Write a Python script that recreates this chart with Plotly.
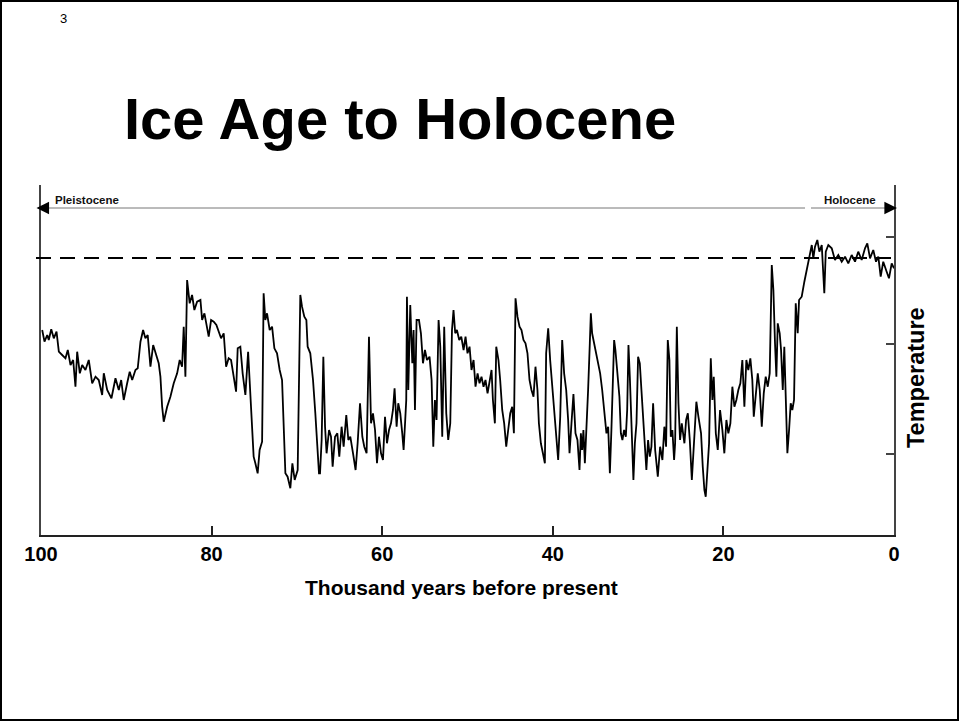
import plotly.graph_objects as go

# Time (thousand years before present) and relative temperature index (arbitrary units)
t_glacial_early = [99.86, 99.59, 99.27, 99.09, 98.80, 98.50, 98.18, 97.91, 97.52, 97.13, 96.86, 96.54, 96.23,
                   95.96, 95.76, 95.45, 95.17, 94.79, 94.40, 94.00, 93.61, 93.23, 92.83, 92.64, 92.24, 91.74,
                   91.27, 90.88, 90.60, 90.30, 89.90, 89.60, 89.31, 88.93, 88.66, 88.34, 88.03, 87.76, 87.49,
                   87.17, 86.85, 86.47, 86.20, 86.00, 85.80, 85.61, 85.21, 84.83, 84.44, 84.04, 83.74, 83.46,
                   83.27, 83.07, 82.87, 82.57, 82.29, 82.02, 81.70]
T_glacial_early = [12.4, 11.23, 11.9, 11.4, 12.47, 11.57, 12.23, 10.23, 9.9, 9.57, 10.4, 8.9, 9.4,
                   6.73, 10.23, 8.07, 8.9, 8.4, 9.4, 7.07, 7.73, 7.4, 5.9, 8.07, 6.4, 5.57,
                   7.57, 6.4, 7.4, 5.4, 7.07, 8.23, 7.4, 8.4, 8.57, 11.23, 12.4, 11.57, 11.9,
                   8.73, 10.9, 9.73, 9.07, 7.73, 4.73, 3.23, 4.73, 5.73, 7.07, 8.07, 9.4, 8.73,
                   12.73, 7.73, 17.4, 15.07, 15.9, 14.4, 15.23]

t_glacial_70k = [81.31, 81.11, 80.84, 80.61, 80.34, 80.06, 79.75, 79.44, 79.17, 78.89, 78.58, 78.30, 78.00,
                 77.72, 77.41, 77.13, 76.94, 76.63, 76.36, 76.04, 75.72, 75.45, 75.26, 75.07, 74.87, 74.60,
                 74.37, 74.08, 73.90, 73.70, 73.50, 73.19, 72.91, 72.64, 72.33, 72.02, 71.74, 71.55, 71.35,
                 71.09, 70.77, 70.53, 70.26, 69.91, 69.71, 69.60, 69.40, 69.13, 68.89, 68.74, 68.43, 68.11,
                 67.84, 67.64, 67.41]
T_glacial_70k = [15.4, 13.4, 14.07, 12.9, 11.73, 13.4, 13.23, 12.9, 12.23, 11.57, 12.07, 8.73, 9.57,
                 9.4, 7.73, 6.23, 10.57, 10.73, 8.07, 5.9, 10.23, 5.73, 2.73, -0.27, -0.93, -1.93,
                 0.4, 1.23, 16.07, 13.4, 14.07, 12.4, 12.73, 10.57, 10.07, 8.4, 7.4, 3.4, -1.93,
                 -2.27, -3.43, -0.93, -2.6, -1.6, 8.4, 15.9, 14.73, 13.73, 13.4, 10.73, 10.07, 7.4,
                 4.07, 1.07, -1.93]

t_glacial_60k = [67.29, 67.10, 66.90, 66.70, 66.52, 66.23, 66.00, 65.81, 65.53, 65.26, 65.03, 64.76, 64.52,
                 64.21, 63.97, 63.74, 63.42, 63.12, 62.88, 62.60, 62.33, 62.10, 61.83, 61.55, 61.31, 61.08,
                 60.84, 60.61, 60.38, 60.14, 59.91, 59.67, 59.44, 59.20, 58.97, 58.74, 58.55, 58.31, 58.12,
                 57.88, 57.65, 57.49, 57.30, 57.18, 57.10, 56.94, 56.71, 56.47, 56.32, 56.16, 55.97, 55.69,
                 55.46, 55.22, 54.99, 54.75, 54.45, 54.21, 54.01, 53.82, 53.63, 53.39, 53.19, 52.96, 52.73,
                 52.49, 52.26, 52.02]
T_glacial_60k = [-1.93, 1.4, 9.73, 2.73, 0.07, 2.4, 1.73, -1.27, 1.73, 2.07, -0.27, 2.73, 0.73,
                 3.9, 1.4, 1.73, 0.07, -1.6, 1.07, 5.07, 1.73, 0.73, 0.07, 11.73, 3.07, 4.07,
                 2.4, -0.93, 1.73, 0.07, -0.6, 3.73, 1.07, 2.4, 3.07, 4.4, 6.57, 2.73, 5.07,
                 4.07, 2.07, 0.4, 3.4, 5.4, 15.73, 6.4, 14.9, 9.07, 12.4, 4.4, 13.4, 13.4,
                 12.07, 9.07, 10.4, 9.4, 9.73, 7.4, 0.73, 5.4, 3.4, 13.4, 10.73, 1.73, 12.73,
                 4.07, 1.4, 3.07]

t_glacial_45k = [51.82, 51.64, 51.44, 51.24, 50.97, 50.73, 50.46, 50.23, 50.00, 49.76, 49.53, 49.29, 49.06,
                 48.82, 48.59, 48.36, 48.12, 47.89, 47.65, 47.42, 47.18, 47.02, 46.79, 46.63, 46.37, 46.17,
                 45.93, 45.70, 45.46, 45.23, 44.99, 44.76, 44.56, 44.37, 44.14, 43.90, 43.67, 43.44, 43.20,
                 42.97, 42.73, 42.50, 42.26, 42.03, 41.80, 41.63, 41.40, 41.16, 40.93, 40.78, 40.54, 40.31,
                 40.07, 39.84, 39.60, 39.37, 39.13, 38.90, 38.67, 38.43, 38.20, 38.04, 37.81, 37.58, 37.34,
                 37.11, 36.87]
T_glacial_45k = [12.4, 14.4, 12.07, 12.4, 11.4, 11.73, 10.4, 11.73, 10.07, 10.73, 8.4, 9.4, 6.73,
                 8.07, 7.07, 7.73, 6.73, 7.4, 6.07, 7.4, 8.4, 5.4, 3.07, 10.73, 9.4, 7.4,
                 4.4, 3.07, 0.73, 2.4, 4.07, 4.73, 2.07, 15.57, 13.73, 12.73, 12.4, 11.4, 11.07,
                 10.07, 7.4, 6.4, 5.73, 8.73, 6.4, 3.07, 1.07, 0.07, -0.93, 10.07, 12.57, 9.4,
                 7.07, 4.73, 2.07, -0.6, 3.73, 11.4, 8.07, 6.4, 3.4, 0.07, 3.07, 6.0, 2.07,
                 1.4, -1.6]

t_glacial_32k = [36.71, 36.56, 36.41, 36.24, 36.05, 35.86, 35.66, 35.54, 35.39, 35.23, 35.07, 34.88, 34.68,
                 34.45, 34.21, 34.06, 33.90, 33.71, 33.51, 33.31, 33.13, 32.96, 32.81, 32.66, 32.49, 32.34,
                 32.19, 32.02, 31.84, 31.64, 31.44, 31.28, 31.13, 30.97, 30.78, 30.55, 30.38, 30.19, 30.00,
                 29.80, 29.61, 29.41, 29.21, 29.03, 28.83, 28.63, 28.44, 28.24]
T_glacial_32k = [2.07, 0.4, 2.4, -0.93, 2.4, 6.4, 11.07, 14.07, 12.07, 11.4, 10.4, 9.73, 9.07,
                 8.07, 6.4, 5.07, 3.07, 2.07, 2.73, -1.93, 2.4, 6.4, 11.4, 10.4, 8.73, 7.07,
                 5.73, 2.07, 1.4, 2.4, 1.73, 4.4, 10.9, 7.73, 2.4, -2.6, 1.07, 3.07, 9.73,
                 9.07, 6.4, 3.73, 1.4, -1.6, 1.4, -0.27, 0.73, 5.07]

t_glacial_late = [28.00, 27.69, 27.42, 27.15, 26.92, 26.72, 26.52, 26.33, 26.17, 25.98, 25.78, 25.66, 25.46,
                  25.27, 25.08, 24.88, 24.57, 24.37, 24.17, 23.94, 23.70, 23.44, 23.17, 22.93, 22.62, 22.42,
                  22.23, 22.07, 21.88, 21.68, 21.48, 21.29, 21.13, 20.89, 20.66, 20.39, 20.12, 19.89, 19.65,
                  19.42, 19.18, 18.95, 18.71, 18.48, 18.25, 18.01, 17.78, 17.54, 17.31, 17.08, 16.84, 16.61,
                  16.44, 16.21, 15.97, 15.74, 15.50, 15.27, 15.04, 14.80, 14.57, 14.33, 14.14, 13.95, 13.79,
                  13.63, 13.40, 13.24, 13.04, 12.86, 12.69, 12.50, 12.30, 12.11, 11.92, 11.72, 11.52, 11.29,
                  11.13, 10.82, 10.51]
T_glacial_late = [0.4, -2.27, 0.73, -0.6, 2.73, 0.73, 11.4, 9.4, 1.73, 2.4, -0.6, 1.07, 12.73,
                  5.07, 1.4, 3.07, 1.07, 3.4, 4.07, 1.4, -2.6, 1.73, 5.23, 3.73, 2.07, -1.27,
                  -3.6, -4.27, -0.93, 1.07, 9.57, 5.4, 7.73, 2.07, 0.4, 4.4, 2.4, 0.07, 3.4,
                  2.07, 3.07, 6.73, 4.73, 5.4, 6.4, 7.07, 9.4, 4.73, 9.4, 8.4, 9.57, 7.4,
                  3.73, 5.73, 8.07, 6.4, 2.73, 6.07, 7.73, 6.73, 8.07, 18.9, 16.4, 11.07, 7.73,
                  13.07, 12.07, 10.4, 6.4, 10.73, 5.07, 0.07, 2.4, 5.07, 4.4, 5.4, 15.07, 12.07,
                  15.4, 15.73, 17.23]

t_holocene = [10.04, 9.84, 9.64, 9.46, 9.26, 8.99, 8.75, 8.47, 8.17, 8.00, 7.70, 7.30, 6.92,
              6.53, 6.13, 5.74, 5.36, 4.96, 4.57, 4.19, 3.79, 3.40, 3.13, 2.81, 2.43, 2.11,
              1.84, 1.56, 1.26, 0.86, 0.59, 0.27, 0.00]
T_holocene = [19.23, 20.23, 20.9, 19.57, 20.73, 21.4, 20.23, 20.9, 16.07, 20.23, 20.9, 20.57, 19.4,
              19.9, 19.23, 19.73, 19.07, 19.9, 19.23, 20.23, 19.4, 20.57, 21.07, 19.57, 20.4, 19.23,
              19.73, 17.73, 19.23, 18.23, 17.57, 19.07, 18.57]

present_level = 19.6          # dashed reference line
x_ticks = [100, 80, 60, 40, 20, 0]
y_ticks = [0, 11, 21.7]
epoch_names = ["Pleistocene", "Holocene"]
pleistocene_span = [100.53, 10.43]
holocene_span = [9.73, -0.35]

t_all = (t_glacial_early + t_glacial_70k + t_glacial_60k + t_glacial_45k + t_glacial_32k
         + t_glacial_late + t_holocene)
T_all = (T_glacial_early + T_glacial_70k + T_glacial_60k + T_glacial_45k + T_glacial_32k
         + T_glacial_late + T_holocene)

FONT = "Liberation Sans, Arial, sans-serif"

fig = go.Figure()
fig.add_trace(go.Scatter(x=t_all, y=T_all, mode="lines",
                         line=dict(color="black", width=1.8), hoverinfo="skip", showlegend=False))

W, H = 959, 721
ml, mr, mt, mb = 41, 65, 185, 186
pw, ph = W - ml - mr, H - mt - mb

def px(xp):
    return (xp - ml) / pw

def py(yp):
    return (H - mb - yp) / ph

fig.update_layout(
    width=W, height=H,
    margin=dict(l=ml, r=mr, t=mt, b=mb, pad=0),
    paper_bgcolor="white", plot_bgcolor="white",
    font=dict(family=FONT, color="black"),
    xaxis=dict(range=[100, 0], tickvals=x_ticks, ticktext=[str(v) for v in x_ticks],
               ticks="inside", ticklen=9, tickwidth=1.5, tickcolor="#222",
               showline=True, linewidth=2, linecolor="#222", showgrid=False, zeroline=False,
               tickfont=dict(size=20, family=FONT, weight="bold", color="black")),
    yaxis=dict(range=[-8.1, 26.9], side="right", tickvals=y_ticks, showticklabels=False,
               ticks="inside", ticklen=8, tickwidth=1.5, tickcolor="#444",
               showline=True, mirror=True, linewidth=1.5, linecolor="#444",
               showgrid=False, zeroline=False),
)

# dashed present-day level
fig.add_shape(type="line", xref="paper", yref="y", x0=px(36), x1=1.0, y0=present_level, y1=present_level,
              line=dict(color="black", width=2, dash="15px,9px"))

# slide border
fig.add_shape(type="rect", xref="paper", yref="paper", x0=px(1), x1=px(958), y0=py(720), y1=py(1),
              line=dict(color="black", width=2))

# epoch arrows: thin grey shafts + black heads
arrow_y = 24.6
for span in (pleistocene_span, holocene_span):
    fig.add_shape(type="line", xref="x", yref="y", x0=span[0], x1=span[1], y0=arrow_y, y1=arrow_y,
                  line=dict(color="#777", width=1), layer="above")
fig.add_annotation(x=pleistocene_span[0], y=arrow_y, ax=pleistocene_span[0] - 1.3, ay=arrow_y,
                   xref="x", yref="y", axref="x", ayref="y",
                   text="", showarrow=True, arrowhead=2, arrowsize=2.1, arrowwidth=1.2, arrowcolor="black",
                   standoff=0, startstandoff=0)
fig.add_annotation(x=holocene_span[1], y=arrow_y, ax=holocene_span[1] + 1.3, ay=arrow_y,
                   xref="x", yref="y", axref="x", ayref="y",
                   text="", showarrow=True, arrowhead=2, arrowsize=2.1, arrowwidth=1.2, arrowcolor="black",
                   standoff=0, startstandoff=0)
fig.add_annotation(x=98.65, y=25.4, xref="x", yref="y", text="<b>" + epoch_names[0] + "</b>",
                   showarrow=False, xanchor="left", yanchor="middle", font=dict(size=11.5, color="#111"))
fig.add_annotation(x=1.88, y=25.4, xref="x", yref="y", text="<b>" + epoch_names[1] + "</b>",
                   showarrow=False, xanchor="right", yanchor="middle", font=dict(size=11.5, color="#111"))

# texts
fig.add_annotation(xref="paper", yref="paper", x=px(63), y=py(18), text="3", showarrow=False,
                   font=dict(size=13, color="black"), xanchor="center", yanchor="middle")
fig.add_annotation(xref="paper", yref="paper", x=px(122), y=py(119), text="<b>Ice Age to Holocene</b>",
                   showarrow=False, font=dict(size=58, color="black"), xanchor="left", yanchor="middle")
fig.add_annotation(xref="paper", yref="paper", x=px(461), y=py(587),
                   text="<b>Thousand years before present</b>", showarrow=False,
                   font=dict(size=21, color="black"), xanchor="center", yanchor="middle")
fig.add_annotation(xref="paper", yref="paper", x=px(916), y=py(378), text="<b>Temperature</b>",
                   showarrow=False, textangle=-90, font=dict(size=23.5, color="black"),
                   xanchor="center", yanchor="middle")

fig.write_html("out.html", config={"displayModeBar": False},
               post_script="document.body.style.margin='0';document.body.style.overflow='hidden';")
